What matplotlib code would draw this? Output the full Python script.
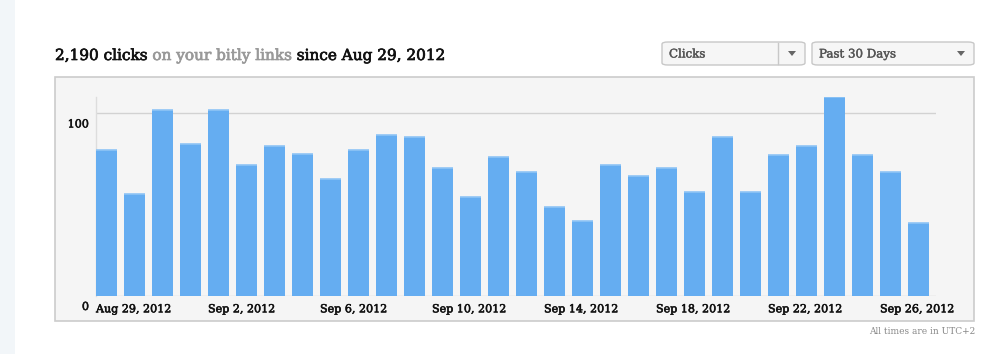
import matplotlib
matplotlib.use("Agg")
import matplotlib.pyplot as plt
import matplotlib.transforms as mtransforms
import matplotlib.patheffects as pe
from matplotlib.patches import FancyBboxPatch, Rectangle, Polygon
import numpy as np

# daily clicks, Aug 29 .. Sep 27 2012
clicks = [80, 56, 102, 83, 102, 72, 82, 78, 64, 80,
          88, 87, 70, 54, 76, 68, 49, 41, 72, 66,
          70, 57, 87, 57, 77, 82, 109, 77, 68, 40]
tick_pos = [0, 4, 8, 12, 16, 20, 24, 28]
tick_labels = ["Aug 29, 2012", "Sep 2, 2012", "Sep 6, 2012", "Sep 10, 2012",
               "Sep 14, 2012", "Sep 18, 2012", "Sep 22, 2012", "Sep 26, 2012"]
y_ticks = [0, 100]

FONT = "DejaVu Serif"
W, H = 992, 354

fig = plt.figure(figsize=(W / 100, H / 100), dpi=100)
fig.patch.set_facecolor("white")

def fx(px):
    return px / W

def fy(py):
    return 1 - py / H

def heavy(color, w=0.5):
    # thicken thin serif glyphs a bit
    return [pe.withStroke(linewidth=w, foreground=color)]

# left strip
fig.add_artist(Rectangle((0, 0), fx(15), 1, transform=fig.transFigure,
                         facecolor="#f2f6f9", edgecolor="none", zorder=-10))

# chart panel (behind the axes)
fig.add_artist(Rectangle((fx(55), fy(321)), fx(974 - 55), (321 - 77) / H,
                         transform=fig.transFigure, facecolor="#f5f5f5",
                         edgecolor="#cccccc", linewidth=1.2, zorder=-10))

ax = fig.add_axes([fx(96), fy(296), fx(936 - 96), (296 - 97) / H])
ax.set_facecolor("none")

x = np.arange(len(clicks))
ax.bar(x, clicks, width=0.75, align="edge", color="#65adf1", linewidth=0, zorder=3)
ax.hlines(clicks, x, x + 0.75, color="#8fc4f5", linewidth=1.2, zorder=4)

ax.set_xlim(0, len(clicks))
ax.set_ylim(0, max(clicks))

for s in ["top", "right", "bottom"]:
    ax.spines[s].set_visible(False)
ax.spines["left"].set_color("#dddddd")
ax.spines["left"].set_linewidth(1)

ax.set_yticks(y_ticks)
ax.set_yticklabels([str(v) for v in y_ticks], fontsize=8, family=FONT,
                   color="#111111")
ax.yaxis.grid(True, color="#d2d2d2", linewidth=1)
ax.set_axisbelow(True)
ax.tick_params(axis="y", length=0, pad=5)
off = mtransforms.ScaledTranslation(0, -10 / 100, fig.dpi_scale_trans)
for lab in ax.get_yticklabels():
    lab.set_transform(lab.get_transform() + off)
    lab.set_path_effects(heavy("#111111", 0.4))

ax.set_xticks(tick_pos)
ax.set_xticklabels(tick_labels, fontsize=8, family=FONT, ha="left",
                   color="#111111")
ax.tick_params(axis="x", length=0, pad=6)
for lab in ax.get_xticklabels():
    lab.set_path_effects(heavy("#111111", 0.4))

# title pieces
t1 = fig.text(fx(55), fy(60), "2,190 clicks", fontsize=11, family=FONT,
              color="#111111", va="baseline", ha="left",
              path_effects=heavy("#111111"))
t2 = ax.annotate(" on your bitly links", xy=(1, 0), xycoords=t1,
                 fontsize=11, family=FONT, color="#999999",
                 va="bottom", ha="left", annotation_clip=False,
                 path_effects=heavy("#999999"))
t3 = ax.annotate(" since Aug 29, 2012", xy=(1, 0), xycoords=t2,
                 fontsize=11, family=FONT, color="#111111",
                 va="bottom", ha="left", annotation_clip=False,
                 path_effects=heavy("#111111"))

# dropdowns
def dropdown(x0, x1, label, divider=None):
    box = FancyBboxPatch((fx(x0), fy(65)), fx(x1 - x0), 23 / H,
                         boxstyle="round,pad=0,rounding_size=0.006",
                         transform=fig.transFigure, facecolor="#f6f6f6",
                         edgecolor="#c8c8c8", linewidth=1)
    fig.add_artist(box)
    fig.text(fx(x0 + 7), fy(54), label, fontsize=8.5, family=FONT,
             color="#555555", va="center", ha="left",
             path_effects=heavy("#555555", 0.3))
    if divider:
        fig.add_artist(plt.Line2D([fx(divider), fx(divider)], [fy(64), fy(43)],
                                  transform=fig.transFigure, color="#c8c8c8",
                                  linewidth=1))
    ac = x1 - 13
    fig.add_artist(Polygon([(fx(ac - 4), fy(51)), (fx(ac + 4), fy(51)),
                            (fx(ac), fy(56))], closed=True,
                           transform=fig.transFigure, facecolor="#666666",
                           edgecolor="none"))

dropdown(662, 805, "Clicks", divider=778)
dropdown(812, 974, "Past 30 Days")

fig.text(fx(975), fy(332), "All times are in UTC+2", fontsize=6.5, family=FONT,
         color="#888888", ha="right", va="center")

fig.savefig("out.png", dpi=100, facecolor="white")
